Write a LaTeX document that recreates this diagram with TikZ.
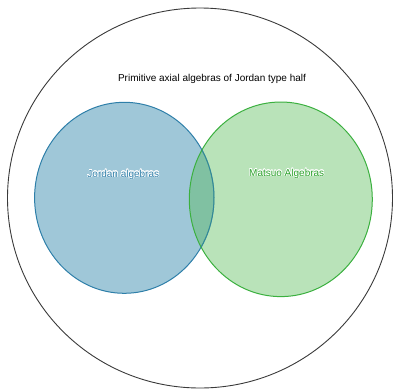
\documentclass[tikz,border=0pt]{standalone}
\usepackage{fontspec}
\setmainfont{Liberation Sans}
\usepackage{contour}
\contourlength{0.45pt}

\definecolor{jordanfill}{HTML}{10739E}
\definecolor{jordanline}{HTML}{2E7FA9}
\definecolor{matsuofill}{HTML}{50B850}
\definecolor{matsuoline}{HTML}{3BB03F}
\definecolor{matsuotext}{HTML}{2AA22A}
\definecolor{outerline}{HTML}{3A3A3A}

\begin{document}
\begin{tikzpicture}[x=1pt, y=-1pt,
    every node/.style={font=\fontsize{10}{12}\selectfont, inner sep=1pt}]
    \useasboundingbox (0,0) rectangle (394,389);

    % Outer class
    \draw[outerline, line width=0.9pt] (200,198) ellipse [x radius=192.5, y radius=190];
    \node (primitive) at (212,78.5) {Primitive axial algebras of Jordan type half};

    % The two subclasses, drawn translucent so the overlap mixes
    \draw[jordanline, line width=1pt, fill=jordanfill, fill opacity=0.4]
        (124.3,197.8) ellipse [x radius=89.7, y radius=95.5];
    \draw[matsuoline, line width=1pt, fill=matsuofill, fill opacity=0.4]
        (280.8,199.3) ellipse [x radius=91.5, y radius=97.3];
    % Blue edge shows through inside the green set
    \begin{scope}
        \clip (280.8,199.3) ellipse [x radius=91.5, y radius=97.3];
        \draw[jordanline, line width=1pt, opacity=0.6]
            (124.3,197.8) ellipse [x radius=89.7, y radius=95.5];
    \end{scope}

    % Labels
    \node[text=jordanline] (jordan) at (123.3,174.7) {\contour{white}{Jordan algebras}};
    \node[text=matsuotext] (matsuo) at (286.7,173.7) {\contour{white}{Matsuo Algebras}};
\end{tikzpicture}
\end{document}
